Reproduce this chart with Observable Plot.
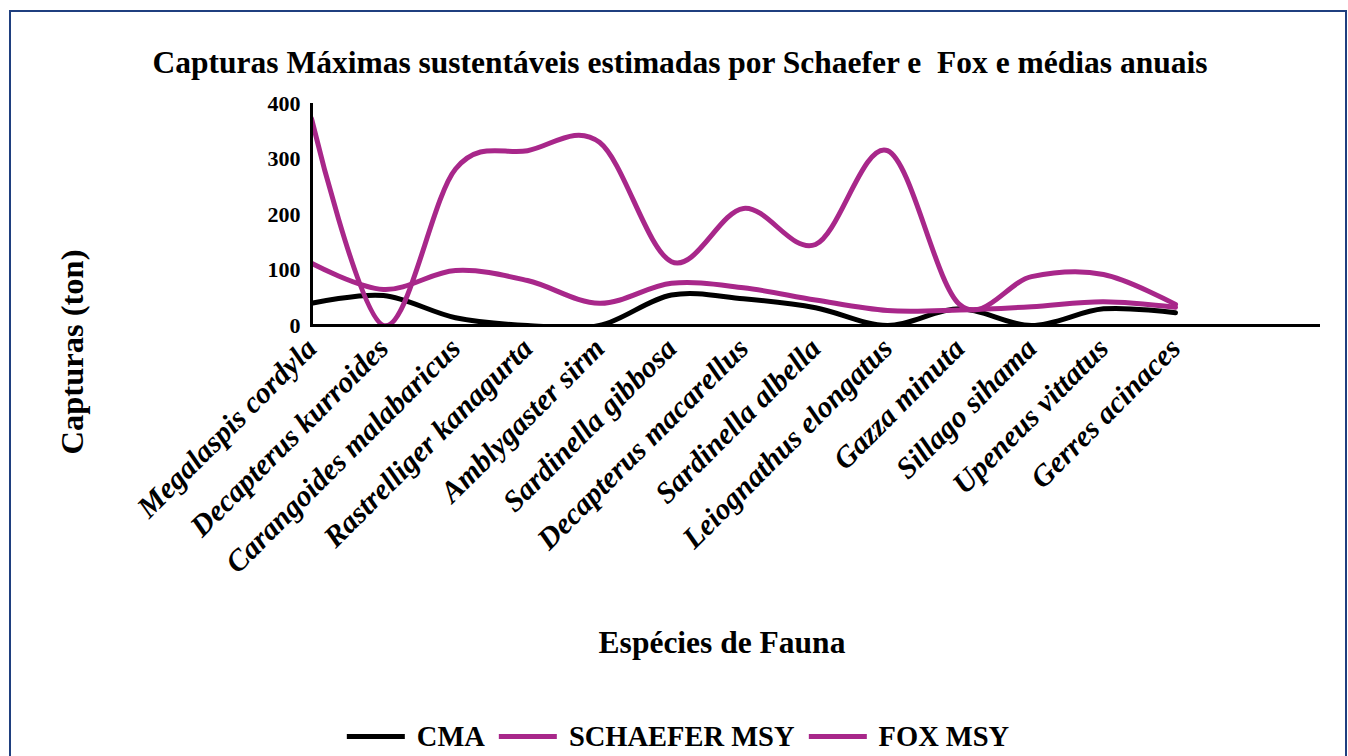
<!DOCTYPE html>
<html><head><meta charset="utf-8">
<script src="https://cdn.jsdelivr.net/npm/d3@7"></script>
<script src="https://cdn.jsdelivr.net/npm/@observablehq/plot@0.6"></script>
<style>
body{margin:0;background:#fff;}
#wrap{position:relative;width:1348px;height:756px;overflow:hidden;font-family:"Liberation Serif","Times New Roman",serif;font-weight:bold;color:#000;}
#frame{position:absolute;left:9px;top:10px;width:1338px;height:780px;border:2px solid #1F3F7F;box-sizing:border-box;}
#title{position:absolute;top:44px;left:680px;transform:translateX(-50%);white-space:pre;font-size:31.5px;line-height:37px;}
#chart{position:absolute;left:0;top:85px;}
#ylabel{position:absolute;left:72px;top:352px;transform:translate(-50%,-50%) rotate(-90deg);white-space:nowrap;font-size:32.5px;line-height:37px;}
#xtitle{position:absolute;top:625px;left:722px;transform:translateX(-50%);white-space:nowrap;font-size:31.5px;line-height:36px;}
#legend{position:absolute;top:720px;left:678px;transform:translateX(-50%);display:flex;align-items:center;white-space:nowrap;font-size:28.5px;line-height:33px;}
.sw{display:inline-block;width:58px;height:5px;margin-right:12px;}
.it{display:flex;align-items:center;margin:0 7px;}
</style></head>
<body>
<div id="wrap">
  <div id="frame"></div>
  <div id="title"></div>
  <div id="chart"></div>
  <div id="ylabel"></div>
  <div id="xtitle"></div>
  <div id="legend"></div>
</div>
<script>
const species = ["Megalaspis cordyla","Decapterus kurroides","Carangoides malabaricus","Rastrelliger kanagurta","Amblygaster sirm","Sardinella gibbosa","Decapterus macarellus","Sardinella albella","Leiognathus elongatus","Gazza minuta","Sillago sihama","Upeneus vittatus","Gerres acinaces"];
const emptySlots = [" ", "  "];
const cma = [40, 54, 14, 0, 0, 55, 48, 32, 0, 30, 0, 30, 23];
const schaeferMsy = [373, 0, 282, 315, 330, 115, 211, 146, 315, 38, 88, 92, 38];
const foxMsy = [112, 65, 99, 81, 40, 76, 68, 46, 27, 28, 34, 43, 33];
const seriesNames = ["CMA", "SCHAEFER MSY", "FOX MSY"];
const seriesColors = ["#000000", "#A8278A", "#A8278A"];
const yTicks = [0, 100, 200, 300, 400];
const titleText = "Capturas Máximas sustentáveis estimadas por Schaefer e  Fox e médias anuais";
const yLabelText = "Capturas (ton)";
const xLabelText = "Espécies de Fauna";

document.getElementById("title").textContent = titleText;
document.getElementById("ylabel").textContent = yLabelText;
document.getElementById("xtitle").textContent = xLabelText;

const seriesValues = [cma, schaeferMsy, foxMsy];
const rows = [];
seriesValues.forEach((vals, s) => vals.forEach((v, i) => rows.push({species: species[i], value: v, series: seriesNames[s]})));

const font = '"Liberation Serif","Times New Roman",serif';
const chart = Plot.plot({
  width: 1348,
  height: 520,
  marginLeft: 310,
  marginRight: 28,
  marginTop: 18,
  marginBottom: 280,
  style: {fontFamily: font, background: "transparent", overflow: "visible"},
  x: {type: "point", domain: [...species, ...emptySlots], padding: 0},
  y: {domain: [0, 400]},
  color: {domain: seriesNames, range: seriesColors},
  marks: [
    Plot.line(rows.filter(d => d.series === "CMA"), {x: "species", y: "value", stroke: "series", curve: "cardinal", tension: 0, strokeWidth: 5, clip: true}),
    Plot.line(rows.filter(d => d.series !== "CMA"), {x: "species", y: "value", z: "series", stroke: "series", curve: "cardinal", tension: 0, strokeWidth: 5, clip: true}),
    Plot.ruleY([0], {strokeWidth: 3}),
    Plot.ruleX([species[0]], {y1: 0, y2: 400, strokeWidth: 3}),
    Plot.axisY({ticks: yTicks, tickSize: 0, tickPadding: 10, fontSize: 22, fontWeight: "bold", label: null}),
    Plot.axisX({tickSize: 0, tickRotate: -45, tickPadding: 18, fontSize: 30, fontWeight: "bold", fontStyle: "italic", tickFormat: d => d.trim(), label: null})
  ]
});
document.getElementById("chart").appendChild(chart);

const legend = document.getElementById("legend");
seriesNames.forEach((name, i) => {
  const it = document.createElement("span");
  it.className = "it";
  const sw = document.createElement("span");
  sw.className = "sw";
  sw.style.background = seriesColors[i];
  const tx = document.createElement("span");
  tx.textContent = name;
  it.appendChild(sw); it.appendChild(tx);
  legend.appendChild(it);
});
</script>
</body></html>
